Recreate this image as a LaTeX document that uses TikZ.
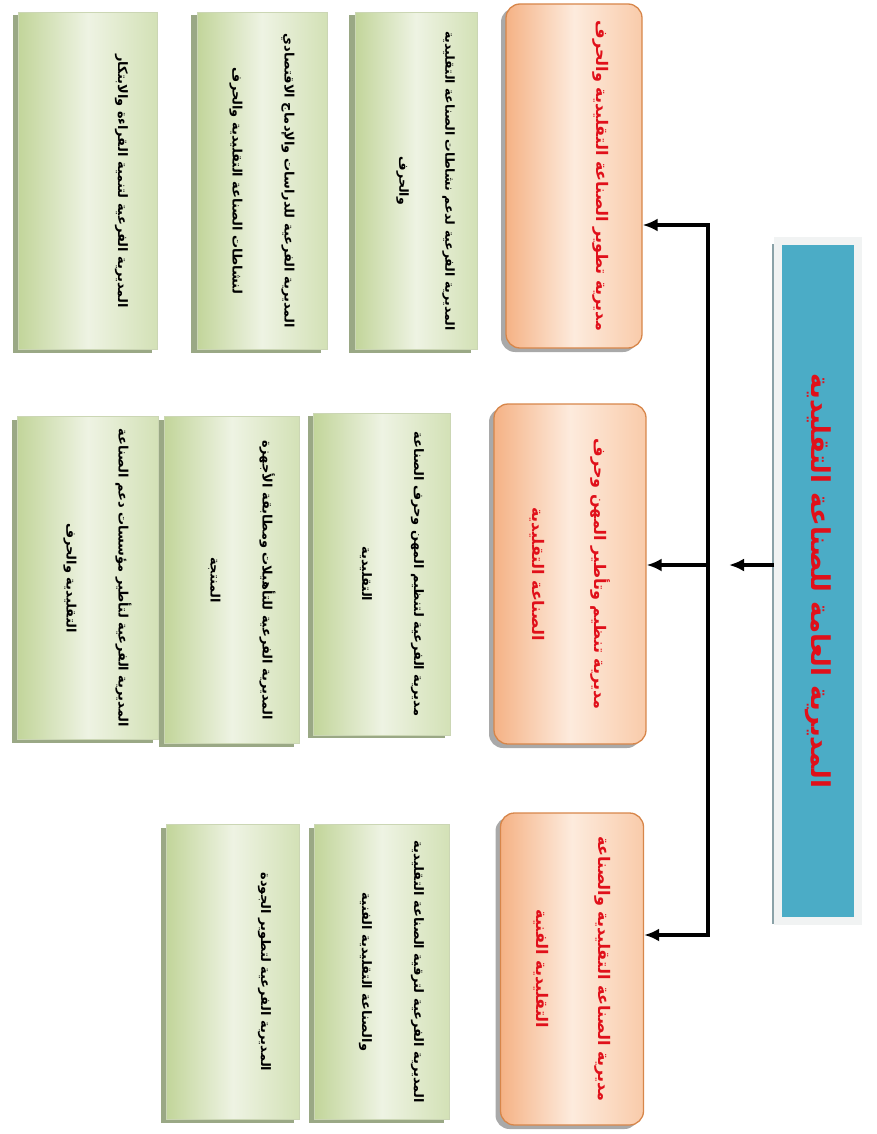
\documentclass[tikz,border=0pt]{standalone}
\usepackage{fontspec}
\newfontfamily\arabicfont[Script=Arabic]{DejaVu Sans}
\TeXXeTstate=1
\usetikzlibrary{arrows.meta}
\definecolor{hdrfill}{HTML}{4BACC6}
\definecolor{hdrframe}{HTML}{F1F3F3}
\definecolor{hdrshadow}{HTML}{8AA2A8}
\definecolor{redtxt}{HTML}{E0101A}
\definecolor{orgborder}{HTML}{D7864A}
\definecolor{orgdark}{HTML}{F5B285}
\definecolor{orglight}{HTML}{FDEBDD}
\definecolor{orgtop}{HTML}{F9CBAA}
\definecolor{grnborder}{HTML}{CBD6B4}
\definecolor{grndark}{HTML}{C2D59A}
\definecolor{grnlight}{HTML}{EEF3E3}
\definecolor{grntop}{HTML}{D3E1B6}
\definecolor{grnshadow}{HTML}{9AA885}
\definecolor{orgshadow}{HTML}{A9A9A9}
\tikzset{
  hdrbox/.style={rotate=-90, fill=hdrfill, draw=hdrframe, line width=8pt,
    preaction={fill=hdrshadow, transform canvas={xshift=-6pt, yshift=-3pt}},
    text=redtxt, font=\arabicfont\bfseries\fontsize{26}{30}\selectfont, align=center, inner sep=0pt},
  lvtwo/.style={rotate=-90, draw=orgborder, line width=1.3pt, rounded corners=14pt,
    left color=orgdark, right color=orgtop, middle color=orglight,
    preaction={fill=orgshadow, transform canvas={xshift=-5pt, yshift=-4pt}},
    text=redtxt, font=\arabicfont\bfseries\fontsize{16}{62}\selectfont, align=center, inner sep=0pt},
  lvthree/.style={rotate=-90, draw=grnborder, line width=0.8pt,
    left color=grndark, right color=grntop, middle color=grnlight,
    preaction={fill=grnshadow, transform canvas={xshift=-6pt, yshift=-3pt}},
    text=black, font=\arabicfont\bfseries\fontsize{13}{52}\selectfont, align=center, inner sep=0pt},
  lift/.style={text depth=22pt},
  arr/.style={line width=3.8pt, line join=miter, -{Latex[length=15pt,width=13pt]}}
}
\begin{document}
\begin{tikzpicture}[x=1pt,y=-1pt]
\useasboundingbox (0,0) rectangle (876,1134);
% header
\node[hdrbox, minimum width=680pt, minimum height=80pt] (hdr) at (818,581)
  {\beginR المديرية العامة للصناعة التقليدية\endR};
% level 2
\node[lvtwo, minimum width=344pt, minimum height=136pt] (l2a) at (574,176)
  {\raisebox{22pt}[0pt][0pt]{\beginR مديرية تطوير الصناعة التقليدية والحرف\endR}};
\node[lvtwo, minimum width=340pt, minimum height=152pt] (l2b) at (570,574)
  {\beginR مديرية تنظيم وتأطير المهن وحرف\endR\\\beginR الصناعة التقليدية\endR};
\node[lvtwo, minimum width=312pt, minimum height=143pt] (l2c) at (572,969)
  {\beginR مديرية الصناعة التقليدية والصناعة\endR\\\beginR التقليدية الفنية\endR};
% level 3, column 1
\node[lvthree, lift, minimum width=337pt, minimum height=122pt,
  font=\arabicfont\bfseries\fontsize{12.5}{52}\selectfont] (c1a) at (416,181)
  {\beginR المديرية الفرعية لدعم نشاطات الصناعة التقليدية\endR\\[-6pt]\beginR والحرف\endR};
\node[lvthree, minimum width=337pt, minimum height=130pt] (c1b) at (262,181)
  {\beginR المديرية الفرعية للدراسات والإدماج الاقتصادي\endR\\\beginR لنشاطات الصناعة التقليدية والحرف\endR};
\node[lvthree, minimum width=337pt, minimum height=139pt] (c1c) at (88,181)
  {\raisebox{30pt}[0pt][0pt]{\beginR المديرية الفرعية لتنمية القراءة والابتكار\endR}};
% level 3, column 2
\node[lvthree, lift, minimum width=322pt, minimum height=137pt] (c2a) at (382,574)
  {\beginR مديرية الفرعية لتنظيم المهن وحرف الصناعة\endR\\\beginR التقليدية\endR};
\node[lvthree, lift, minimum width=327pt, minimum height=135pt] (c2b) at (232,580)
  {\beginR المديرية الفرعية للتأهيلات ومطابقة الأجهزة\endR\\\beginR المنتجة\endR};
\node[lvthree, lift, minimum width=323pt, minimum height=141pt] (c2c) at (88,578)
  {\beginR المديرية الفرعية لتأطير مؤسسات دعم الصناعة\endR\\\beginR التقليدية والحرف\endR};
% level 3, column 3
\node[lvthree, lift, minimum width=295pt, minimum height=135pt] (c3a) at (382,972)
  {\beginR المديرية الفرعية لترقية الصناعة التقليدية\endR\\\beginR والصناعة التقليدية الفنية\endR};
\node[lvthree, minimum width=295pt, minimum height=133pt] (c3b) at (233,972)
  {\raisebox{28pt}[0pt][0pt]{\beginR المديرية الفرعية لتطوير الجودة\endR}};
% connectors
\coordinate (b1) at (708,225);
\coordinate (b2) at (708,565);
\coordinate (b3) at (708,935);
\coordinate (hj) at (729,565);
\draw[arr] (hdr.south |- b2) -- (hj);
\draw[arr] (b2) -- (b1) -- (b1 -| l2a.north);
\draw[arr] (b2) -- (b3) -- (b3 -| l2c.north);
\draw[arr] (b2) -- (b2 -| l2b.north);
\end{tikzpicture}
\end{document}
